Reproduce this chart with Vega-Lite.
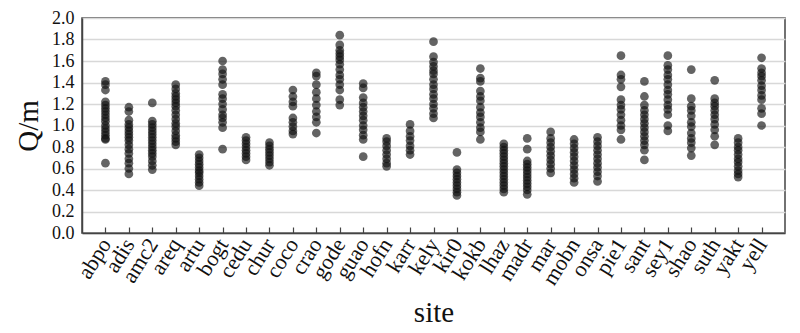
{
  "$schema": "https://vega.github.io/schema/vega-lite/v6.json",
  "width": 703,
  "height": 215,
  "autosize": {"type": "none"},
  "padding": {"left": 82, "top": 18, "right": 15, "bottom": 100},
  "background": "white",
  "config": {
    "view": {"stroke": "#444", "strokeWidth": 1.5},
    "font": "Liberation Serif, Times New Roman, serif"
  },
  "data": {"values": [
    {"site":"abpo","q":1.41},{"site":"abpo","q":1.38},{"site":"abpo","q":1.33},{"site":"abpo","q":1.22},{"site":"abpo","q":1.19},{"site":"abpo","q":1.16},{"site":"abpo","q":1.13},{"site":"abpo","q":1.10},{"site":"abpo","q":1.07},{"site":"abpo","q":1.04},{"site":"abpo","q":1.00},{"site":"abpo","q":0.97},{"site":"abpo","q":0.94},{"site":"abpo","q":0.91},{"site":"abpo","q":0.88},{"site":"abpo","q":0.87},{"site":"abpo","q":0.65},
    {"site":"adis","q":1.17},{"site":"adis","q":1.13},{"site":"adis","q":1.05},{"site":"adis","q":1.01},{"site":"adis","q":0.98},{"site":"adis","q":0.95},{"site":"adis","q":0.92},{"site":"adis","q":0.89},{"site":"adis","q":0.86},{"site":"adis","q":0.82},{"site":"adis","q":0.78},{"site":"adis","q":0.74},{"site":"adis","q":0.69},{"site":"adis","q":0.65},{"site":"adis","q":0.60},{"site":"adis","q":0.55},
    {"site":"amc2","q":1.21},{"site":"amc2","q":1.04},{"site":"amc2","q":1.01},{"site":"amc2","q":0.98},{"site":"amc2","q":0.95},{"site":"amc2","q":0.92},{"site":"amc2","q":0.89},{"site":"amc2","q":0.86},{"site":"amc2","q":0.83},{"site":"amc2","q":0.80},{"site":"amc2","q":0.77},{"site":"amc2","q":0.74},{"site":"amc2","q":0.71},{"site":"amc2","q":0.67},{"site":"amc2","q":0.63},{"site":"amc2","q":0.59},
    {"site":"areq","q":1.38},{"site":"areq","q":1.34},{"site":"areq","q":1.30},{"site":"areq","q":1.27},{"site":"areq","q":1.24},{"site":"areq","q":1.21},{"site":"areq","q":1.18},{"site":"areq","q":1.14},{"site":"areq","q":1.10},{"site":"areq","q":1.06},{"site":"areq","q":1.02},{"site":"areq","q":0.99},{"site":"areq","q":0.95},{"site":"areq","q":0.91},{"site":"areq","q":0.88},{"site":"areq","q":0.85},{"site":"areq","q":0.82},
    {"site":"artu","q":0.73},{"site":"artu","q":0.70},{"site":"artu","q":0.67},{"site":"artu","q":0.64},{"site":"artu","q":0.61},{"site":"artu","q":0.58},{"site":"artu","q":0.56},{"site":"artu","q":0.53},{"site":"artu","q":0.50},{"site":"artu","q":0.47},{"site":"artu","q":0.44},
    {"site":"bogt","q":1.60},{"site":"bogt","q":1.52},{"site":"bogt","q":1.48},{"site":"bogt","q":1.43},{"site":"bogt","q":1.38},{"site":"bogt","q":1.29},{"site":"bogt","q":1.25},{"site":"bogt","q":1.20},{"site":"bogt","q":1.15},{"site":"bogt","q":1.10},{"site":"bogt","q":1.07},{"site":"bogt","q":1.03},{"site":"bogt","q":0.98},{"site":"bogt","q":0.78},
    {"site":"cedu","q":0.89},{"site":"cedu","q":0.86},{"site":"cedu","q":0.83},{"site":"cedu","q":0.80},{"site":"cedu","q":0.77},{"site":"cedu","q":0.74},{"site":"cedu","q":0.71},{"site":"cedu","q":0.68},
    {"site":"chur","q":0.84},{"site":"chur","q":0.81},{"site":"chur","q":0.78},{"site":"chur","q":0.75},{"site":"chur","q":0.72},{"site":"chur","q":0.69},{"site":"chur","q":0.66},{"site":"chur","q":0.63},
    {"site":"coco","q":1.33},{"site":"coco","q":1.27},{"site":"coco","q":1.22},{"site":"coco","q":1.18},{"site":"coco","q":1.07},{"site":"coco","q":1.03},{"site":"coco","q":0.99},{"site":"coco","q":0.95},{"site":"coco","q":0.92},
    {"site":"crao","q":1.49},{"site":"crao","q":1.46},{"site":"crao","q":1.38},{"site":"crao","q":1.31},{"site":"crao","q":1.25},{"site":"crao","q":1.19},{"site":"crao","q":1.13},{"site":"crao","q":1.08},{"site":"crao","q":1.03},{"site":"crao","q":0.93},
    {"site":"gode","q":1.84},{"site":"gode","q":1.75},{"site":"gode","q":1.70},{"site":"gode","q":1.67},{"site":"gode","q":1.64},{"site":"gode","q":1.61},{"site":"gode","q":1.57},{"site":"gode","q":1.52},{"site":"gode","q":1.47},{"site":"gode","q":1.43},{"site":"gode","q":1.38},{"site":"gode","q":1.33},{"site":"gode","q":1.24},{"site":"gode","q":1.19},
    {"site":"guao","q":1.39},{"site":"guao","q":1.35},{"site":"guao","q":1.26},{"site":"guao","q":1.21},{"site":"guao","q":1.17},{"site":"guao","q":1.13},{"site":"guao","q":1.09},{"site":"guao","q":1.05},{"site":"guao","q":1.00},{"site":"guao","q":0.96},{"site":"guao","q":0.91},{"site":"guao","q":0.87},{"site":"guao","q":0.71},
    {"site":"hofn","q":0.88},{"site":"hofn","q":0.85},{"site":"hofn","q":0.81},{"site":"hofn","q":0.77},{"site":"hofn","q":0.73},{"site":"hofn","q":0.69},{"site":"hofn","q":0.65},{"site":"hofn","q":0.62},
    {"site":"karr","q":1.01},{"site":"karr","q":0.95},{"site":"karr","q":0.90},{"site":"karr","q":0.86},{"site":"karr","q":0.81},{"site":"karr","q":0.77},{"site":"karr","q":0.73},
    {"site":"kely","q":1.78},{"site":"kely","q":1.64},{"site":"kely","q":1.59},{"site":"kely","q":1.55},{"site":"kely","q":1.51},{"site":"kely","q":1.48},{"site":"kely","q":1.43},{"site":"kely","q":1.38},{"site":"kely","q":1.34},{"site":"kely","q":1.29},{"site":"kely","q":1.25},{"site":"kely","q":1.20},{"site":"kely","q":1.16},{"site":"kely","q":1.11},{"site":"kely","q":1.07},
    {"site":"kir0","q":0.75},{"site":"kir0","q":0.59},{"site":"kir0","q":0.56},{"site":"kir0","q":0.53},{"site":"kir0","q":0.50},{"site":"kir0","q":0.47},{"site":"kir0","q":0.44},{"site":"kir0","q":0.41},{"site":"kir0","q":0.38},{"site":"kir0","q":0.35},
    {"site":"kokb","q":1.53},{"site":"kokb","q":1.44},{"site":"kokb","q":1.41},{"site":"kokb","q":1.32},{"site":"kokb","q":1.27},{"site":"kokb","q":1.23},{"site":"kokb","q":1.17},{"site":"kokb","q":1.12},{"site":"kokb","q":1.08},{"site":"kokb","q":1.03},{"site":"kokb","q":0.98},{"site":"kokb","q":0.94},{"site":"kokb","q":0.87},
    {"site":"lhaz","q":0.83},{"site":"lhaz","q":0.80},{"site":"lhaz","q":0.77},{"site":"lhaz","q":0.74},{"site":"lhaz","q":0.71},{"site":"lhaz","q":0.68},{"site":"lhaz","q":0.65},{"site":"lhaz","q":0.62},{"site":"lhaz","q":0.59},{"site":"lhaz","q":0.56},{"site":"lhaz","q":0.53},{"site":"lhaz","q":0.50},{"site":"lhaz","q":0.47},{"site":"lhaz","q":0.44},{"site":"lhaz","q":0.41},{"site":"lhaz","q":0.38},
    {"site":"madr","q":0.88},{"site":"madr","q":0.78},{"site":"madr","q":0.67},{"site":"madr","q":0.64},{"site":"madr","q":0.61},{"site":"madr","q":0.58},{"site":"madr","q":0.55},{"site":"madr","q":0.52},{"site":"madr","q":0.49},{"site":"madr","q":0.46},{"site":"madr","q":0.43},{"site":"madr","q":0.40},{"site":"madr","q":0.36},
    {"site":"mar","q":0.94},{"site":"mar","q":0.88},{"site":"mar","q":0.84},{"site":"mar","q":0.80},{"site":"mar","q":0.76},{"site":"mar","q":0.72},{"site":"mar","q":0.68},{"site":"mar","q":0.64},{"site":"mar","q":0.60},{"site":"mar","q":0.56},
    {"site":"mobn","q":0.87},{"site":"mobn","q":0.83},{"site":"mobn","q":0.79},{"site":"mobn","q":0.75},{"site":"mobn","q":0.71},{"site":"mobn","q":0.67},{"site":"mobn","q":0.63},{"site":"mobn","q":0.59},{"site":"mobn","q":0.55},{"site":"mobn","q":0.51},{"site":"mobn","q":0.47},
    {"site":"onsa","q":0.89},{"site":"onsa","q":0.85},{"site":"onsa","q":0.81},{"site":"onsa","q":0.77},{"site":"onsa","q":0.73},{"site":"onsa","q":0.69},{"site":"onsa","q":0.65},{"site":"onsa","q":0.61},{"site":"onsa","q":0.57},{"site":"onsa","q":0.53},{"site":"onsa","q":0.48},
    {"site":"pie1","q":1.65},{"site":"pie1","q":1.47},{"site":"pie1","q":1.43},{"site":"pie1","q":1.36},{"site":"pie1","q":1.24},{"site":"pie1","q":1.19},{"site":"pie1","q":1.15},{"site":"pie1","q":1.10},{"site":"pie1","q":1.05},{"site":"pie1","q":1.00},{"site":"pie1","q":0.96},{"site":"pie1","q":0.87},
    {"site":"sant","q":1.41},{"site":"sant","q":1.27},{"site":"sant","q":1.19},{"site":"sant","q":1.14},{"site":"sant","q":1.10},{"site":"sant","q":1.06},{"site":"sant","q":1.02},{"site":"sant","q":0.98},{"site":"sant","q":0.94},{"site":"sant","q":0.90},{"site":"sant","q":0.86},{"site":"sant","q":0.82},{"site":"sant","q":0.77},{"site":"sant","q":0.68},
    {"site":"sey1","q":1.65},{"site":"sey1","q":1.56},{"site":"sey1","q":1.52},{"site":"sey1","q":1.47},{"site":"sey1","q":1.43},{"site":"sey1","q":1.38},{"site":"sey1","q":1.33},{"site":"sey1","q":1.29},{"site":"sey1","q":1.24},{"site":"sey1","q":1.19},{"site":"sey1","q":1.15},{"site":"sey1","q":1.10},{"site":"sey1","q":1.00},{"site":"sey1","q":0.95},
    {"site":"shao","q":1.52},{"site":"shao","q":1.25},{"site":"shao","q":1.18},{"site":"shao","q":1.14},{"site":"shao","q":1.09},{"site":"shao","q":1.03},{"site":"shao","q":0.99},{"site":"shao","q":0.93},{"site":"shao","q":0.88},{"site":"shao","q":0.84},{"site":"shao","q":0.79},{"site":"shao","q":0.72},
    {"site":"suth","q":1.42},{"site":"suth","q":1.25},{"site":"suth","q":1.21},{"site":"suth","q":1.18},{"site":"suth","q":1.14},{"site":"suth","q":1.10},{"site":"suth","q":1.06},{"site":"suth","q":1.01},{"site":"suth","q":0.96},{"site":"suth","q":0.90},{"site":"suth","q":0.82},
    {"site":"yakt","q":0.88},{"site":"yakt","q":0.84},{"site":"yakt","q":0.80},{"site":"yakt","q":0.77},{"site":"yakt","q":0.73},{"site":"yakt","q":0.69},{"site":"yakt","q":0.66},{"site":"yakt","q":0.62},{"site":"yakt","q":0.58},{"site":"yakt","q":0.55},{"site":"yakt","q":0.52},
    {"site":"yell","q":1.63},{"site":"yell","q":1.53},{"site":"yell","q":1.49},{"site":"yell","q":1.46},{"site":"yell","q":1.42},{"site":"yell","q":1.37},{"site":"yell","q":1.33},{"site":"yell","q":1.28},{"site":"yell","q":1.24},{"site":"yell","q":1.16},{"site":"yell","q":1.11},{"site":"yell","q":1.00}
  ]},
  "mark": {"type": "circle", "size": 76, "color": "#111", "opacity": 0.65},
  "encoding": {
    "x": {
      "field": "site", "type": "nominal", "sort": null,
      "scale": {"type": "point", "padding": 1},
      "axis": {
        "title": "site", "titleFont": "Liberation Serif, Times New Roman, serif", "titleFontSize": 29, "titleFontWeight": "normal", "titleColor": "#111", "titlePadding": 10,
        "labelFont": "Liberation Serif, Times New Roman, serif", "labelFontSize": 22, "labelColor": "#111", "labelAngle": -58, "labelPadding": 13,
        "domainColor": "#444", "domainWidth": 1.5, "tickColor": "#444", "tickSize": -6, "tickWidth": 1.2,
        "grid": false
      }
    },
    "y": {
      "field": "q", "type": "quantitative",
      "scale": {"domain": [0, 2], "nice": false, "zero": true},
      "axis": {
        "title": "Q/m", "titleFont": "Liberation Serif, Times New Roman, serif", "titleFontSize": 29, "titleFontWeight": "normal", "titleColor": "#111", "titlePadding": 8,
        "values": [0, 0.2, 0.4, 0.6, 0.8, 1.0, 1.2, 1.4, 1.6, 1.8, 2.0], "format": ".1f",
        "labelFont": "Liberation Serif, Times New Roman, serif", "labelFontSize": 18, "labelColor": "#111", "labelPadding": 8, "labelOverlap": false,
        "ticks": false, "domainColor": "#444", "domainWidth": 1.5,
        "grid": true, "gridColor": "#d8d8d8", "gridWidth": 1.3
      }
    }
  }
}
